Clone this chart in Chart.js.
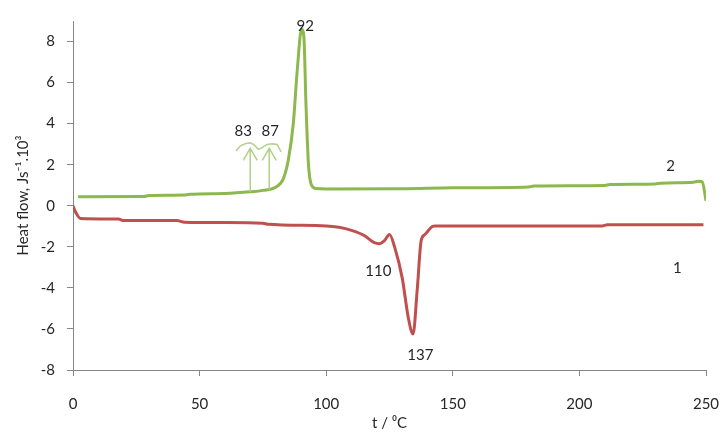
<!DOCTYPE html>
<html>
<head>
<meta charset="utf-8">
<script src="https://cdn.jsdelivr.net/npm/chart.js@4.4.1/dist/chart.umd.min.js"></script>
<style>
html,body{margin:0;padding:0;background:#fff;}
#wrap{width:722px;height:432px;position:relative;}
</style>
</head>
<body>
<div id="wrap"><canvas id="c" width="722" height="432"></canvas></div>
<script>
// Curve 2 (green)
const tempGreen = [2, 28, 30, 44, 46, 60, 70, 75, 80, 83, 85, 87, 88.5, 90.3, 91.2, 92, 93, 94.2, 96, 100, 130, 150, 180, 182, 210, 212, 230, 232, 245, 247, 248.5, 250];
const heatGreen = [0.44, 0.45, 0.5, 0.52, 0.56, 0.6, 0.68, 0.75, 0.9, 1.3, 2.2, 4.0, 6.5, 8.6, 8.2, 5.0, 2.0, 1.0, 0.84, 0.82, 0.83, 0.88, 0.92, 0.96, 0.99, 1.03, 1.06, 1.1, 1.15, 1.19, 1.17, 0.25];
// Curve 1 (red)
const tempRed = [0, 1, 3, 18, 20, 41, 44, 60, 75, 77, 100, 105, 110, 115, 119, 121, 123, 125, 127, 130, 132.5, 134.3, 136, 137.5, 139, 142, 143, 209, 211, 249];
const heatRed = [0, -0.3, -0.62, -0.65, -0.72, -0.72, -0.8, -0.82, -0.85, -0.9, -0.98, -1.05, -1.2, -1.45, -1.8, -1.85, -1.7, -1.4, -2.0, -3.5, -5.5, -6.25, -4.0, -1.7, -1.4, -1.0, -0.98, -0.98, -0.93, -0.93];

// Tick settings
const xTicks = [0, 50, 100, 150, 200, 250];
const yTicks = [-8, -6, -4, -2, 0, 2, 4, 6, 8];

// Annotations (data coordinates)
const labelTexts = ['92', '83', '87', '110', '137', '2', '1'];
const labelT = [91.7, 67.2, 77.9, 120.6, 137.2, 236, 238.7];
const labelV = [8.74, 3.64, 3.64, -3.2, -7.28, 1.94, -3.06];
const arrowT = [70, 77.5];
const arrowFrom = [0.68, 0.78];
const arrowTo = [2.8, 2.8];
const braceT = [64.4, 66.0, 68.0, 70.0, 71.3, 73.3, 74.6, 76.6, 78.6, 80.6, 82.2];
const braceV = [2.67, 2.91, 3.02, 3.07, 2.99, 2.75, 2.83, 2.99, 3.02, 2.99, 2.63];

const FONT = 'Lato, "Open Sans", sans-serif';
const TEXT = '#262626';
const AXIS = '#868686';
const GREEN = '#8cb84d';
const RED = '#c0504d';
const ARROWC = '#b3d08a';

const toPts = (xs, ys) => xs.map((x, i) => ({x: x, y: ys[i]}));

const annot = {
  id: 'annot',
  afterDatasetsDraw(chart) {
    const {ctx, scales: {x, y}} = chart;
    ctx.save();
    ctx.strokeStyle = ARROWC;
    ctx.lineWidth = 1.5;
    arrowT.forEach((t, i) => {
      const px = x.getPixelForValue(t);
      const p0 = y.getPixelForValue(arrowFrom[i]);
      const p1 = y.getPixelForValue(arrowTo[i]);
      ctx.beginPath();
      ctx.moveTo(px, p0);
      ctx.lineTo(px, p1);
      ctx.moveTo(px - 7, p1 + 12);
      ctx.lineTo(px, p1);
      ctx.lineTo(px + 7, p1 + 12);
      ctx.stroke();
    });
    ctx.beginPath();
    braceT.forEach((t, i) => {
      const px = x.getPixelForValue(t), py = y.getPixelForValue(braceV[i]);
      if (i === 0) ctx.moveTo(px, py); else ctx.lineTo(px, py);
    });
    ctx.stroke();
    ctx.fillStyle = TEXT;
    ctx.font = '15px ' + FONT;
    ctx.textAlign = 'center';
    ctx.textBaseline = 'middle';
    labelTexts.forEach((s, i) => {
      ctx.fillText(s, x.getPixelForValue(labelT[i]), y.getPixelForValue(labelV[i]));
    });
    ctx.restore();
  }
};

new Chart(document.getElementById('c'), {
  type: 'line',
  data: {
    datasets: [
      {label: '2', data: toPts(tempGreen, heatGreen), borderColor: GREEN, borderWidth: 3, pointRadius: 0, cubicInterpolationMode: 'monotone', fill: false},
      {label: '1', data: toPts(tempRed, heatRed), borderColor: RED, borderWidth: 3, pointRadius: 0, cubicInterpolationMode: 'monotone', fill: false}
    ]
  },
  options: {
    responsive: false,
    animation: false,
    layout: {padding: {left: 0, top: 20, right: 0, bottom: 0}},
    plugins: {legend: {display: false}, tooltip: {enabled: false}},
    scales: {
      x: {
        type: 'linear', min: 0, max: 250,
        afterBuildTicks: (ax) => { ax.ticks = xTicks.map(v => ({value: v})); },
        afterFit: (ax) => { ax.height = 62; ax.paddingRight = 16; ax.paddingLeft = 0; },
        grid: {display: true, drawOnChartArea: false, drawTicks: true, tickLength: 6, color: AXIS},
        border: {display: true, color: AXIS, width: 1},
        ticks: {color: TEXT, font: {family: FONT, size: 15}, padding: 19, maxRotation: 0},
        title: {display: true, text: 't / ⁰C', color: TEXT, font: {family: FONT, size: 15}, padding: {top: 0, bottom: 0}}
      },
      y: {
        type: 'linear', min: -8, max: 9,
        afterBuildTicks: (ax) => { ax.ticks = yTicks.map(v => ({value: v})); },
        afterFit: (ax) => { ax.width = 73; },
        grid: {display: true, drawOnChartArea: false, drawTicks: true, tickLength: 6, color: AXIS},
        border: {display: true, color: AXIS, width: 1},
        ticks: {color: TEXT, font: {family: FONT, size: 15}, padding: 12},
        title: {display: true, text: 'Heat flow, Js⁻¹.10³', color: TEXT, font: {family: FONT, size: 15}, padding: {top: 14, bottom: 0}}
      }
    }
  },
  plugins: [annot]
});
</script>
</body>
</html>
